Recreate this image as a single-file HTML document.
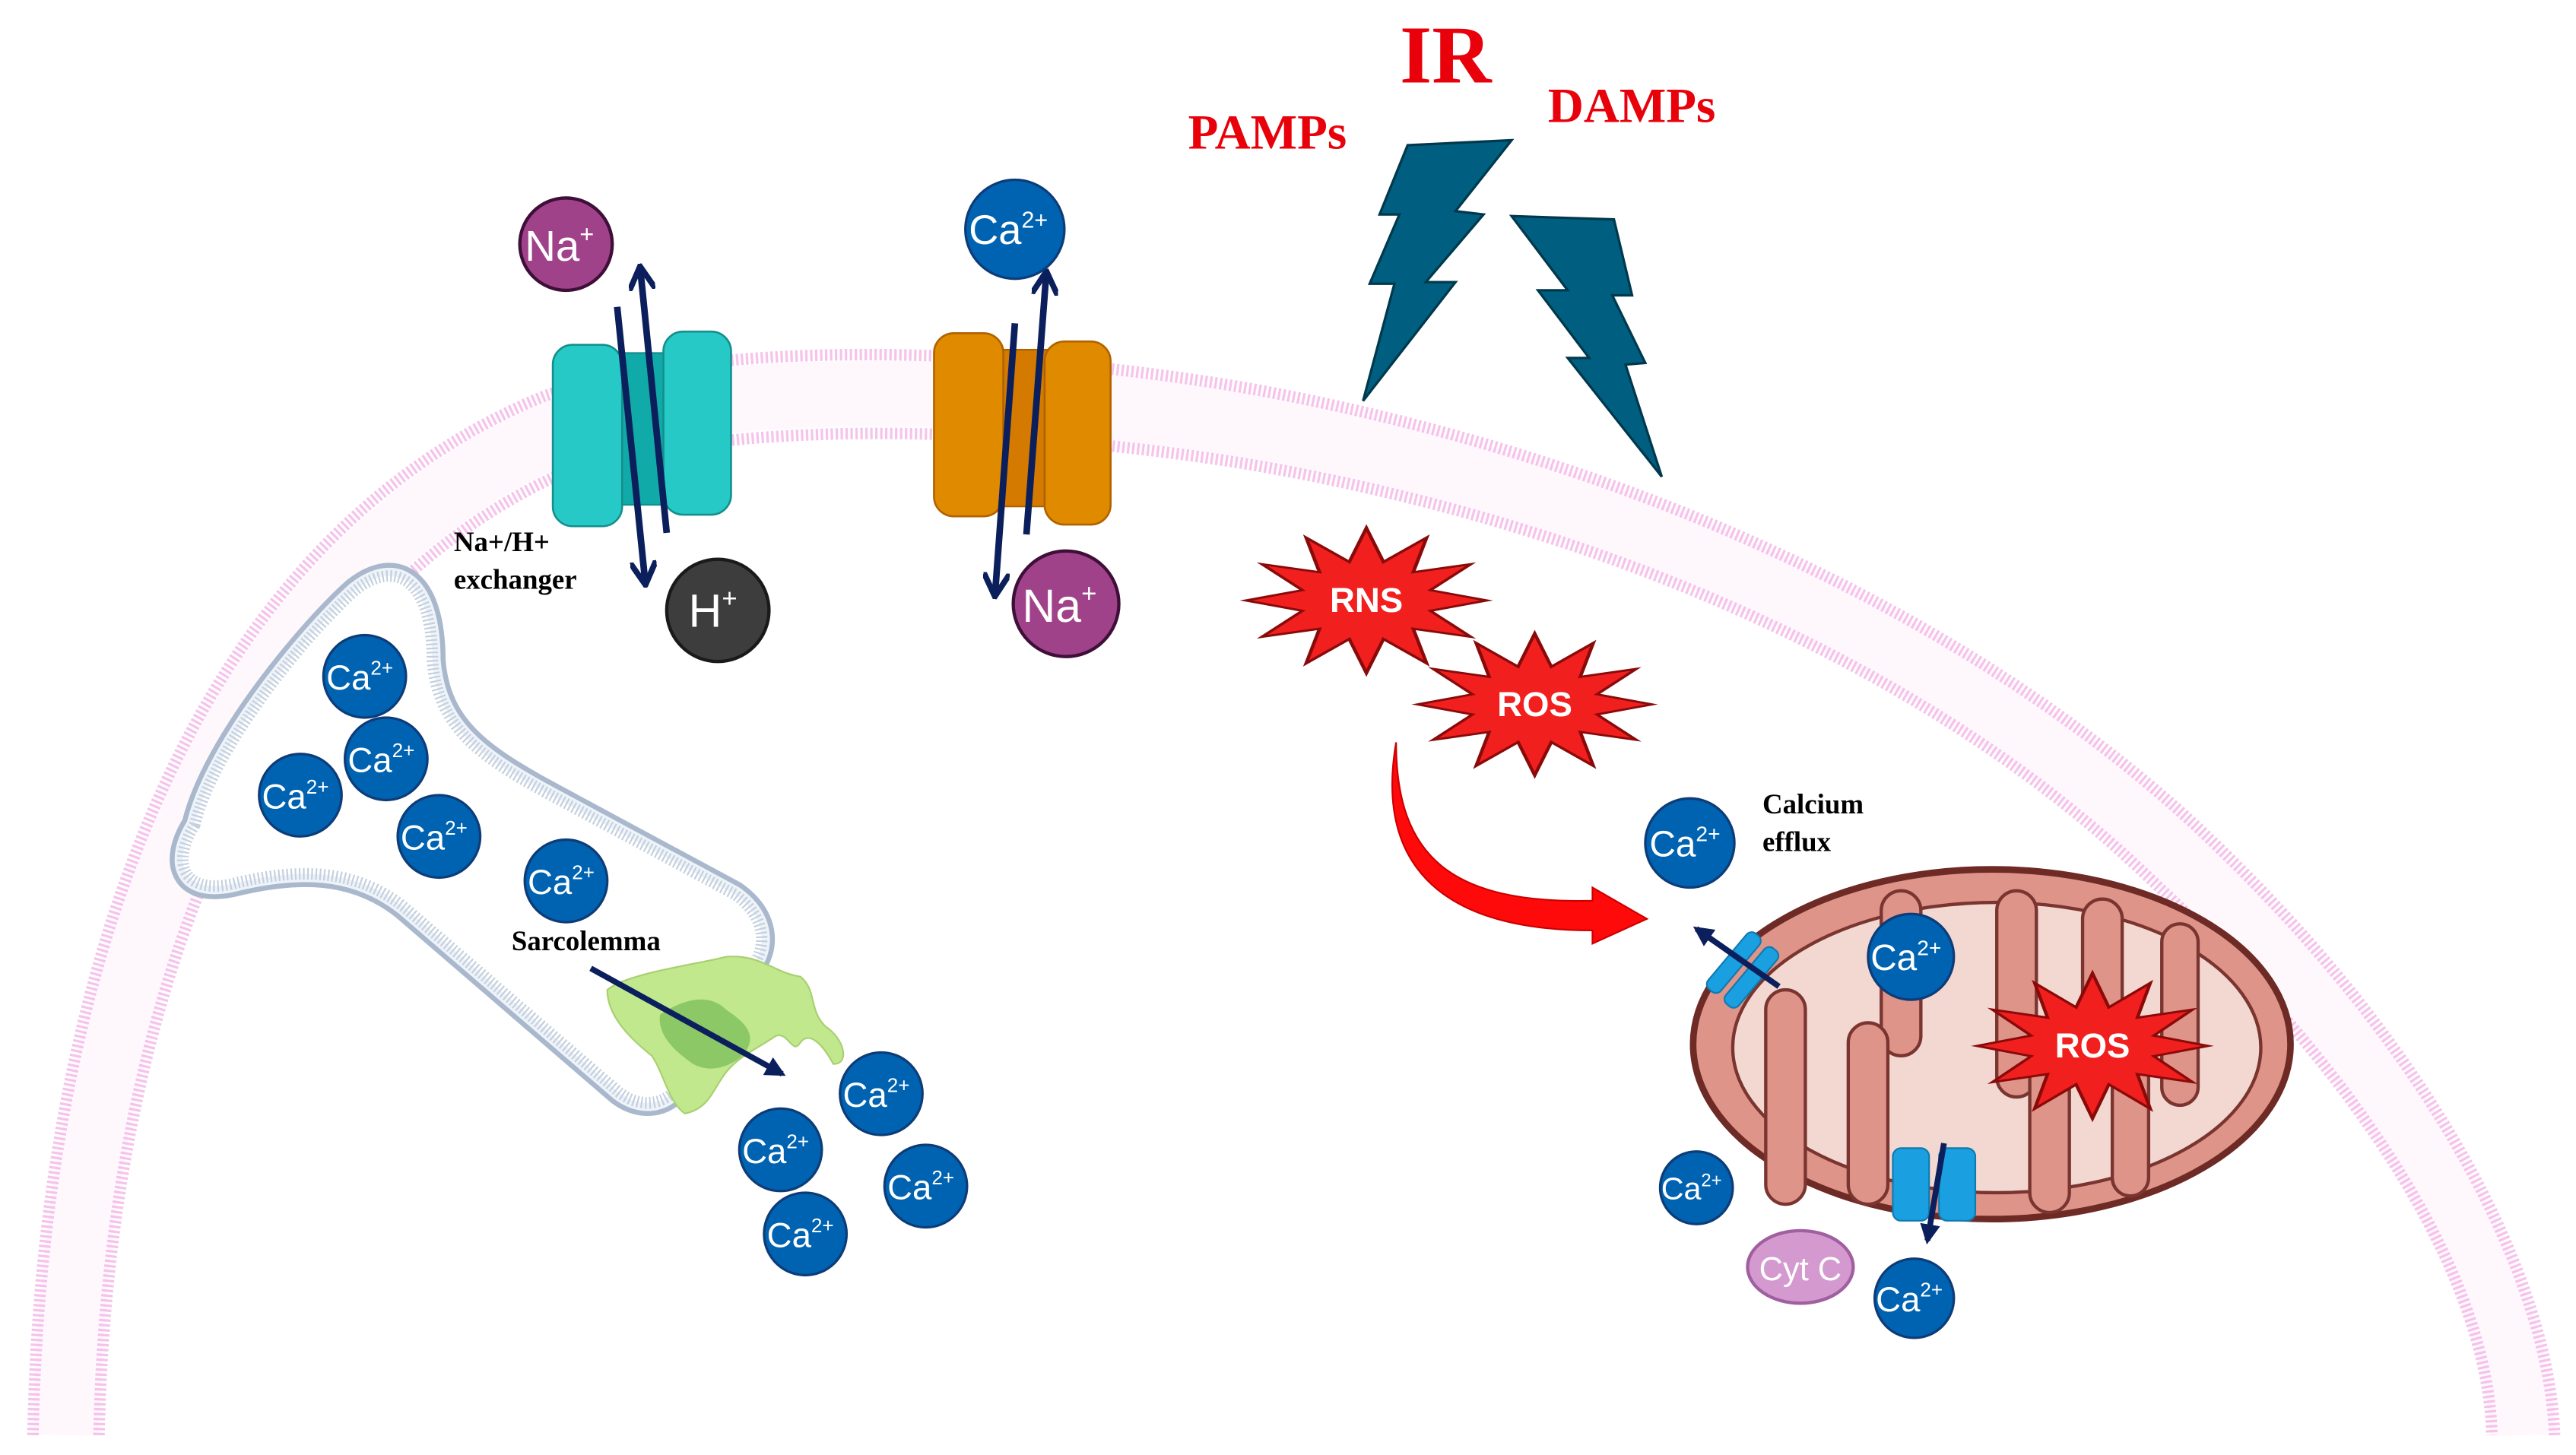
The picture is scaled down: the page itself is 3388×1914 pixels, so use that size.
<!DOCTYPE html>
<html><head><meta charset="utf-8"><style>
html,body{margin:0;padding:0;background:#fff;}
svg{display:block;}
.ion{font-family:"Liberation Sans",sans-serif;fill:#fff;}
.lab{font-family:"Liberation Serif",serif;font-weight:bold;fill:#000;font-size:17px;}
.red{font-family:"Liberation Serif",serif;font-weight:bold;fill:#e8000b;}
.st{fill:#f21f1f;stroke:#8a0a0a;stroke-width:0.03;}
.star{font-family:"Liberation Sans",sans-serif;font-weight:bold;fill:#fff;font-size:21px;}
</style></head><body>
<svg width="3388" height="1914" viewBox="0 0 1561 882" preserveAspectRatio="none" xmlns="http://www.w3.org/2000/svg">
<defs>
<marker id="ah" viewBox="0 0 10 10" refX="8" refY="5" markerWidth="4" markerHeight="4" orient="auto">
<path d="M0,0 L9,5 L0,10" fill="none" stroke="#0b1f5c" stroke-width="2.2"/></marker>
<marker id="ahf" viewBox="0 0 10 10" refX="8" refY="5" markerWidth="3.5" markerHeight="3.5" orient="auto">
<path d="M0,0 L10,5 L0,10 Z" fill="#0b1f5c"/></marker>
<polygon id="sp" points="1,0 0.531,0.142 0.866,0.5 0.389,0.389 0.5,0.866 0.142,0.531 0,1 -0.142,0.531 -0.5,0.866 -0.389,0.389 -0.866,0.5 -0.531,0.142 -1,0 -0.531,-0.142 -0.866,-0.5 -0.389,-0.389 -0.5,-0.866 -0.142,-0.531 0,-1 0.142,-0.531 0.5,-0.866 0.389,-0.389 0.866,-0.5 0.531,-0.142"/>
</defs>
<rect width="1561" height="882" fill="#fff"/>

<!-- cell membrane -->
<path d="M 40 870 C 45 610 130 350 338 262 C 455 225 640 238 760 259 C 995 300 1190 398 1315 515 C 1460 650 1527 790 1529 870" fill="none" stroke="#fef8fd" stroke-width="40"/>
<path d="M 20 870 C 25 600 110 330 330 240 C 450 200 640 215 760 236 C 1000 280 1200 380 1330 500 C 1480 640 1545 780 1548 870" fill="none" stroke="#f2a9e2" stroke-width="7" stroke-dasharray="1.5 1.5" opacity="0.7"/>
<path d="M 60 870 C 65 620 150 370 345 285 C 460 250 640 262 760 282 C 990 322 1180 415 1300 530 C 1440 660 1508 780 1510 870" fill="none" stroke="#f2a9e2" stroke-width="7" stroke-dasharray="1.5 1.5" opacity="0.7"/>

<!-- titles -->
<text class="red" x="876" y="50" font-size="50" text-anchor="middle">IR</text>
<text class="red" x="720" y="90" font-size="30">PAMPs</text>
<text class="red" x="938" y="74" font-size="30">DAMPs</text>

<!-- lightning -->
<polygon points="853,88 916,85 882,128 899,130 864,171 882,171 826,243 845,172 830,172 848,130 836,130" fill="#005f80" stroke="#00394d" stroke-width="1.5"/>
<polygon points="916,131 978,133 989,179 977,179 997,220 985,221 1007,289 950,217 963,217 932,176 950,176" fill="#005f80" stroke="#00394d" stroke-width="1.5"/>

<!-- NHE teal -->
<rect x="377" y="214" width="27" height="92" fill="#10aaa8" stroke="#138f8d"/>
<rect x="335" y="209" width="42" height="110" rx="12" fill="#26c9c6" stroke="#138f8d" stroke-width="1.2"/>
<rect x="402" y="201" width="41" height="111" rx="12" fill="#26c9c6" stroke="#138f8d" stroke-width="1.2"/>
<line x1="404" y1="323" x2="388" y2="163" stroke="#0b1f5c" stroke-width="4" marker-end="url(#ah)"/>
<line x1="374" y1="186" x2="391" y2="353" stroke="#0b1f5c" stroke-width="4" marker-end="url(#ah)"/>
<circle cx="343" cy="148" r="28" fill="#a0428a" stroke="#3e0f38" stroke-width="2"/>
<text class="ion" x="339" y="158" font-size="26" text-anchor="middle">Na<tspan font-size="15" dy="-11">+</tspan></text>
<circle cx="435" cy="370" r="31" fill="#3d3d3d" stroke="#1a1a1a" stroke-width="2"/>
<text class="ion" x="432" y="380" font-size="28" text-anchor="middle">H<tspan font-size="16" dy="-12">+</tspan></text>
<text class="lab" x="275" y="334">Na+/H+</text>
<text class="lab" x="275" y="357">exchanger</text>

<!-- orange channel -->
<rect x="606" y="212" width="30" height="95" fill="#d47a00" stroke="#b06200"/>
<rect x="566" y="202" width="42" height="111" rx="12" fill="#e08a00" stroke="#b06200" stroke-width="1.2"/>
<rect x="633" y="207" width="40" height="111" rx="12" fill="#e08a00" stroke="#b06200" stroke-width="1.2"/>
<line x1="622" y1="324" x2="634" y2="166" stroke="#0b1f5c" stroke-width="4" marker-end="url(#ah)"/>
<line x1="615" y1="196" x2="603" y2="360" stroke="#0b1f5c" stroke-width="4" marker-end="url(#ah)"/>
<circle cx="615" cy="139" r="30" fill="#0063b1" stroke="#0d3c78" stroke-width="1.5"/>
<text class="ion" x="611" y="148" font-size="25" text-anchor="middle">Ca<tspan font-size="14" dy="-10">2+</tspan></text>
<circle cx="646" cy="366" r="32" fill="#a0428a" stroke="#3e0f38" stroke-width="2"/>
<text class="ion" x="642" y="377" font-size="28" text-anchor="middle">Na<tspan font-size="16" dy="-12">+</tspan></text>

<!-- stars -->
<use href="#sp" class="st" transform="translate(828,364) scale(73,44)"/>
<text class="star" x="828" y="371" text-anchor="middle">RNS</text>
<use href="#sp" class="st" transform="translate(930,427) scale(71,43)"/>
<text class="star" x="930" y="434" text-anchor="middle">ROS</text>

<!-- red curved arrow -->
<path d="M 846 450 C 846 520 880 548 965 546 L 965 538 L 998 557 L 965 572 L 965 564 C 868 564 834 520 846 450 Z" fill="#ff0a0a" stroke="#cc0000" stroke-width="1"/>

<!-- SR -->
<path d="M 118 500 C 130 450 190 380 215 358 C 240 338 262 352 262 400 C 265 440 290 458 330 480 L 445 542 C 465 556 465 575 455 587 L 410 660 C 400 672 385 670 375 662 L 245 550 C 215 526 180 526 140 536 C 110 542 104 522 118 500 Z" fill="#fff" stroke="#a9b8cc" stroke-width="16" stroke-linejoin="round"/>
<path d="M 118 500 C 130 450 190 380 215 358 C 240 338 262 352 262 400 C 265 440 290 458 330 480 L 445 542 C 465 556 465 575 455 587 L 410 660 C 400 672 385 670 375 662 L 245 550 C 215 526 180 526 140 536 C 110 542 104 522 118 500 Z" fill="#fff" stroke="#eef3f9" stroke-width="10" stroke-linejoin="round"/>
<path d="M 118 500 C 130 450 190 380 215 358 C 240 338 262 352 262 400 C 265 440 290 458 330 480 L 445 542 C 465 556 465 575 455 587 L 410 660 C 400 672 385 670 375 662 L 245 550 C 215 526 180 526 140 536 C 110 542 104 522 118 500 Z" fill="#fff" stroke="#c4d0de" stroke-width="7" stroke-dasharray="1 1.5" stroke-linejoin="round"/>

<!-- green RyR -->
<path d="M 368 600 C 380 590 420 585 440 580 C 460 578 470 590 485 592 C 495 600 490 612 500 622 C 512 630 515 645 505 645 C 498 632 490 625 485 632 C 480 640 478 625 470 628 C 460 635 448 640 440 650 C 432 660 430 672 415 675 C 405 668 402 650 395 640 C 380 628 368 615 368 600 Z" fill="#c2e88e" stroke="#a8d070"/>
<path d="M 400 615 C 415 605 430 602 440 612 C 452 620 460 628 450 640 C 440 648 430 650 420 645 C 410 638 398 628 400 615 Z" fill="#8cc866"/>
<line x1="358" y1="587" x2="474" y2="651" stroke="#0b1f5c" stroke-width="3.5" marker-end="url(#ahf)"/>
<text class="lab" x="310" y="576">Sarcolemma</text>

<!-- Ca ions -->
<g fill="#0063b1" stroke="#0d3c78" stroke-width="1.5">
<circle cx="221" cy="410" r="25"/><circle cx="234" cy="460" r="25"/><circle cx="182" cy="482" r="25"/><circle cx="266" cy="507" r="25"/><circle cx="343" cy="534" r="25"/>
<circle cx="534" cy="663" r="25"/><circle cx="473" cy="697" r="25"/><circle cx="561" cy="719" r="25"/><circle cx="488" cy="748" r="25"/>
</g>
<g class="ion" font-size="21" text-anchor="middle">
<text x="218" y="418">Ca<tspan font-size="12" dy="-9">2+</tspan></text>
<text x="231" y="468">Ca<tspan font-size="12" dy="-9">2+</tspan></text>
<text x="179" y="490">Ca<tspan font-size="12" dy="-9">2+</tspan></text>
<text x="263" y="515">Ca<tspan font-size="12" dy="-9">2+</tspan></text>
<text x="340" y="542">Ca<tspan font-size="12" dy="-9">2+</tspan></text>
<text x="531" y="671">Ca<tspan font-size="12" dy="-9">2+</tspan></text>
<text x="470" y="705">Ca<tspan font-size="12" dy="-9">2+</tspan></text>
<text x="558" y="727">Ca<tspan font-size="12" dy="-9">2+</tspan></text>
<text x="485" y="756">Ca<tspan font-size="12" dy="-9">2+</tspan></text>
</g>

<!-- mitochondrion -->
<ellipse cx="1207" cy="633" rx="181" ry="106" fill="#de9488" stroke="#6e2a25" stroke-width="4"/>
<ellipse cx="1210" cy="635" rx="160" ry="88" fill="#f2d8d0" stroke="#7a3530" stroke-width="2"/>
<g fill="#de9488" stroke="#7a3530" stroke-width="2">
<rect x="1140" y="540" width="24" height="100" rx="12"/>
<rect x="1210" y="540" width="24" height="125" rx="12"/>
<rect x="1262" y="545" width="24" height="100" rx="12"/>
<rect x="1310" y="560" width="22" height="110" rx="11"/>
<rect x="1070" y="600" width="24" height="130" rx="12"/>
<rect x="1120" y="620" width="24" height="110" rx="12"/>
<rect x="1230" y="640" width="24" height="95" rx="12"/>
<rect x="1280" y="630" width="22" height="95" rx="11"/>
</g>
<use href="#sp" class="st" transform="translate(1268,634) scale(70,44)"/>
<text class="star" x="1268" y="641" text-anchor="middle">ROS</text>
<!-- mito channels -->
<g transform="translate(1056,588) rotate(-50)"><rect x="-22" y="-12" width="44" height="10" rx="4" fill="#1aa0e0" stroke="#0f7ab0"/><rect x="-22" y="2" width="44" height="10" rx="4" fill="#1aa0e0" stroke="#0f7ab0"/></g>
<line x1="1078" y1="598" x2="1028" y2="563" stroke="#0b1f5c" stroke-width="3.5" marker-end="url(#ahf)"/>
<g transform="translate(1172,718)"><rect x="-25" y="-22" width="22" height="44" rx="5" fill="#1aa0e0" stroke="#0f7ab0"/><rect x="3" y="-22" width="22" height="44" rx="5" fill="#1aa0e0" stroke="#0f7ab0"/></g>
<line x1="1178" y1="693" x2="1168" y2="752" stroke="#0b1f5c" stroke-width="3.5" marker-end="url(#ahf)"/>
<g fill="#0063b1" stroke="#0d3c78" stroke-width="1.5">
<circle cx="1024" cy="511" r="27"/><circle cx="1158" cy="580" r="26"/><circle cx="1028" cy="720" r="22"/><circle cx="1160" cy="787" r="24"/>
</g>
<g class="ion" text-anchor="middle">
<text x="1021" y="519" font-size="22">Ca<tspan font-size="13" dy="-9">2+</tspan></text>
<text x="1155" y="588" font-size="22">Ca<tspan font-size="13" dy="-9">2+</tspan></text>
<text x="1025" y="727" font-size="19">Ca<tspan font-size="11" dy="-8">2+</tspan></text>
<text x="1157" y="795" font-size="21">Ca<tspan font-size="12" dy="-9">2+</tspan></text>
</g>
<ellipse cx="1091" cy="768" rx="32" ry="22" fill="#d49ad0" stroke="#a060a0" stroke-width="2"/>
<text class="ion" x="1091" y="776" font-size="20" text-anchor="middle">Cyt C</text>
<text class="lab" x="1068" y="493">Calcium</text>
<text class="lab" x="1068" y="516">efflux</text>
</svg>
</body></html>
